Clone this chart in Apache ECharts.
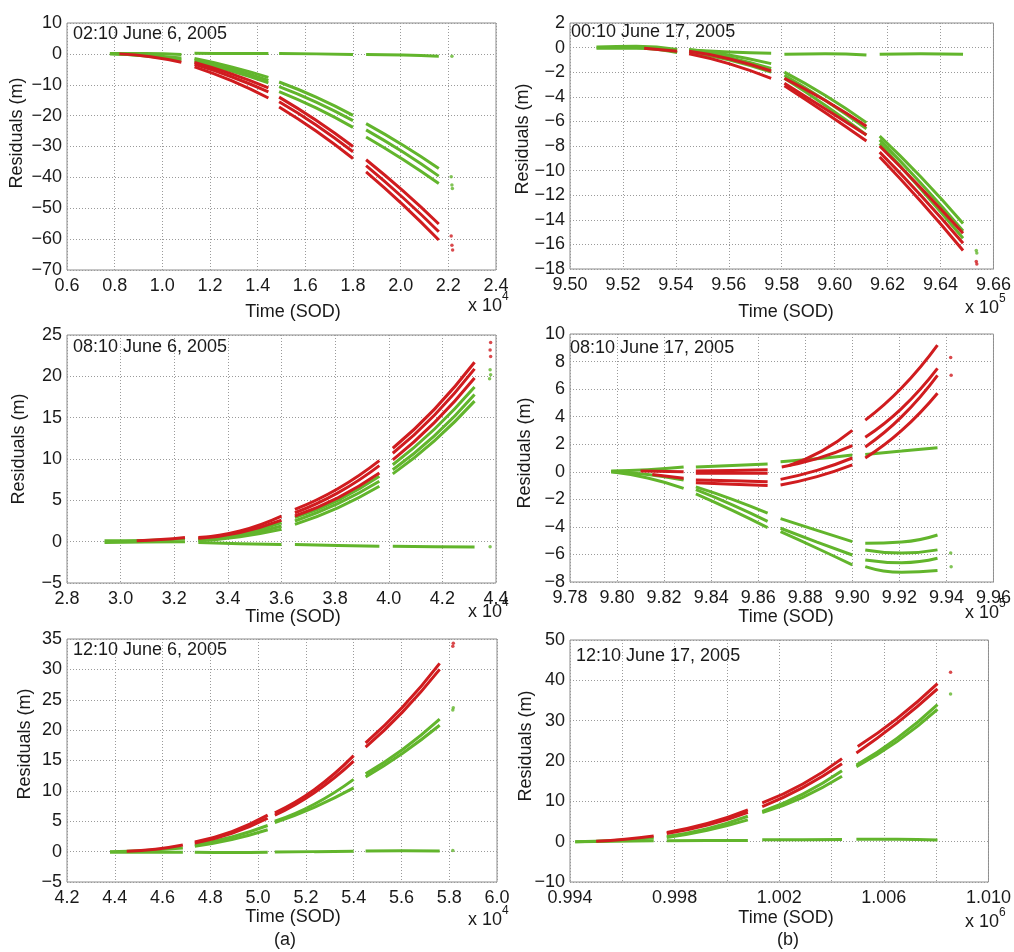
<!DOCTYPE html>
<html>
<head>
<meta charset="utf-8">
<script src="https://cdn.jsdelivr.net/npm/echarts@6/dist/echarts.min.js"></script>
<style>
html,body{margin:0;padding:0;background:#fff;}
#c{width:1014px;height:952px;}
</style>
</head>
<body>
<div id="c"></div>
<script>
// ---------- DATA (x in thousands of seconds of day, y in metres) ----------
const TITLES = ['02:10 June 6, 2005','00:10 June 17, 2005','08:10 June 6, 2005','08:10 June 17, 2005','12:10 June 6, 2005','12:10 June 17, 2005'];
const XEXP = ['4','5','4','5','4','6'];

const P1_XTICKS = ['0.6','0.8','1.0','1.2','1.4','1.6','1.8','2.0','2.2','2.4'];
const P1_YTICKS = ['\u221270','\u221260','\u221250','\u221240','\u221230','\u221220','\u221210','0','10'];
const P1_GREEN = [
  [[7.8,0.1],[9.3,0.1],[10.8,-0.2]],
  [[7.8,0],[9.3,-0.5],[10.8,-1.3]],
  [[7.8,0],[9.3,-0.7],[10.8,-2.0]],
  [[11.35,0.2],[12.9,0.1],[14.45,0.1]],
  [[11.35,-1.5],[12.9,-4.2],[14.45,-7.6]],
  [[11.35,-2.0],[12.9,-4.9],[14.45,-8.6]],
  [[11.35,-2.6],[12.9,-5.6],[14.45,-9.4]],
  [[14.9,0.1],[16.45,0],[18.0,-0.2]],
  [[14.9,-9.1],[16.45,-14.0],[18.0,-19.9]],
  [[14.9,-10.6],[16.45,-15.6],[18.0,-21.6]],
  [[14.9,-12.2],[16.45,-17.5],[18.0,-23.8]],
  [[18.55,-0.2],[20.1,-0.4],[21.6,-0.8]],
  [[18.55,-22.6],[20.1,-29.6],[21.6,-37.1]],
  [[18.55,-24.6],[20.1,-31.8],[21.6,-39.6]],
  [[18.55,-26.9],[20.1,-34.2],[21.6,-42.0]]
];
const P1_RED = [
  [[8.2,0],[9.5,-0.9],[10.8,-2.7]],
  [[11.35,-2.8],[12.9,-6.5],[14.45,-11.0]],
  [[11.35,-3.4],[12.9,-7.4],[14.45,-12.3]],
  [[11.35,-4.2],[12.9,-8.7],[14.45,-14.3]],
  [[14.9,-14.0],[16.45,-21.5],[18.0,-30.0]],
  [[14.9,-15.5],[16.45,-23.0],[18.0,-31.7]],
  [[14.9,-17.2],[16.45,-25.0],[18.0,-33.9]],
  [[18.55,-34.3],[20.1,-44.4],[21.6,-55.1]],
  [[18.55,-36.2],[20.1,-46.6],[21.6,-57.6]],
  [[18.55,-38.2],[20.1,-48.9],[21.6,-60.3]]
];
const P1_DOTS_GREEN = [[22.15,-0.8],[22.12,-39.8],[22.15,-42.5],[22.17,-43.6]];
const P1_DOTS_RED = [[22.12,-59.0],[22.15,-62.0],[22.18,-63.5]];

const P2_XTICKS = ['9.50','9.52','9.54','9.56','9.58','9.60','9.62','9.64','9.66'];
const P2_YTICKS = ['\u221218','\u221216','\u221214','\u221212','\u221210','\u22128','\u22126','\u22124','\u22122','0','2'];
const P2_GREEN = [
  [[951.0,0.05],[952.5,0.1],[954.05,-0.15]],
  [[951.0,-0.05],[952.5,-0.05],[954.05,-0.4]],
  [[954.5,-0.2],[956.0,-0.35],[957.6,-0.45]],
  [[954.5,-0.15],[956.0,-0.6],[957.6,-1.3]],
  [[954.5,-0.25],[956.0,-0.8],[957.6,-1.7]],
  [[954.5,-0.35],[956.0,-1.0],[957.6,-2.0]],
  [[958.1,-0.55],[959.65,-0.5],[961.2,-0.6]],
  [[958.1,-2.0],[959.65,-3.9],[961.2,-6.1]],
  [[958.1,-2.25],[959.65,-4.3],[961.2,-6.6]],
  [[958.1,-2.5],[959.65,-4.7],[961.2,-7.1]],
  [[961.7,-0.55],[963.25,-0.5],[964.85,-0.55]],
  [[961.7,-7.2],[963.25,-10.5],[964.85,-14.3]],
  [[961.7,-7.5],[963.25,-11.0],[964.85,-14.9]],
  [[961.7,-7.8],[963.25,-11.5],[964.85,-15.5]]
];
const P2_RED = [
  [[952.8,-0.05],[954.05,-0.3]],
  [[954.5,-0.3],[956.0,-0.9],[957.6,-1.9]],
  [[954.5,-0.5],[956.0,-1.3],[957.6,-2.5]],
  [[958.1,-2.5],[959.65,-4.3],[961.2,-6.4]],
  [[958.1,-2.9],[959.65,-5.0],[961.2,-7.1]],
  [[958.1,-3.1],[959.65,-5.3],[961.2,-7.6]],
  [[961.7,-8.0],[963.25,-11.4],[964.85,-15.1]],
  [[961.7,-8.5],[963.25,-12.0],[964.85,-15.9]],
  [[961.7,-8.9],[963.25,-12.5],[964.85,-16.5]]
];
const P2_DOTS_GREEN = [[965.35,-16.5],[965.37,-16.7]];
const P2_DOTS_RED = [[965.35,-17.4],[965.37,-17.6]];

const P3_XTICKS = ['2.8','3.0','3.2','3.4','3.6','3.8','4.0','4.2','4.4'];
const P3_YTICKS = ['\u22125','0','5','10','15','20','25'];
const P3_GREEN = [
  [[29.4,0.1],[30.9,0.15],[32.4,0.35]],
  [[29.4,-0.1],[30.9,-0.05],[32.4,0.0]],
  [[32.9,-0.1],[34.45,-0.25],[36.0,-0.35]],
  [[32.9,0.3],[34.45,0.9],[36.0,2.3]],
  [[32.9,0.2],[34.45,0.75],[36.0,1.9]],
  [[32.9,0.1],[34.45,0.6],[36.0,1.5]],
  [[36.5,-0.35],[38.1,-0.45],[39.65,-0.55]],
  [[36.5,2.9],[38.1,5.0],[39.65,7.9]],
  [[36.5,2.5],[38.1,4.6],[39.65,7.3]],
  [[36.5,2.1],[38.1,4.1],[39.65,6.7]],
  [[40.15,-0.55],[41.7,-0.6],[43.2,-0.65]],
  [[40.15,9.3],[41.7,13.6],[43.2,18.7]],
  [[40.15,8.7],[41.7,12.8],[43.2,17.8]],
  [[40.15,8.2],[41.7,12.2],[43.2,17.0]]
];
const P3_RED = [
  [[30.6,0.1],[31.5,0.25],[32.4,0.5]],
  [[32.9,0.5],[34.45,1.3],[36.0,3.1]],
  [[32.9,0.4],[34.45,1.1],[36.0,2.6]],
  [[36.5,3.9],[38.1,6.4],[39.65,9.8]],
  [[36.5,3.5],[38.1,5.9],[39.65,9.2]],
  [[36.5,3.1],[38.1,5.3],[39.65,8.3]],
  [[40.15,11.3],[41.7,16.0],[43.2,21.7]],
  [[40.15,10.7],[41.7,15.3],[43.2,20.9]],
  [[40.15,9.9],[41.7,14.4],[43.2,19.8]]
];
const P3_DOTS_GREEN = [[43.78,20.8],[43.8,20.2],[43.76,19.7],[43.78,-0.6]];
const P3_DOTS_RED = [[43.8,24.1],[43.78,23.2],[43.8,22.4]];

const P4_XTICKS = ['9.78','9.80','9.82','9.84','9.86','9.88','9.90','9.92','9.94','9.96'];
const P4_YTICKS = ['\u22128','\u22126','\u22124','\u22122','0','2','4','6','8','10'];
const P4_GREEN = [
  [[979.75,0.05],[981.3,0.15],[982.83,0.35]],
  [[979.75,0],[981.3,-0.2],[982.83,-0.6]],
  [[979.75,0],[981.3,-0.45],[982.83,-1.2]],
  [[983.35,0.35],[984.9,0.45],[986.4,0.57]],
  [[983.35,-1.1],[984.9,-2.0],[986.4,-3.0]],
  [[983.35,-1.3],[984.9,-2.4],[986.4,-3.6]],
  [[983.35,-1.6],[984.9,-2.8],[986.4,-4.05]],
  [[986.95,0.73],[988.5,0.95],[990.0,1.22]],
  [[986.95,-3.4],[988.5,-4.25],[990.0,-5.07]],
  [[986.95,-4.1],[988.5,-5.1],[990.0,-6.04]],
  [[986.95,-4.35],[988.5,-5.55],[990.0,-6.76]],
  [[990.55,1.25],[992.1,1.5],[993.62,1.75]],
  [[990.55,-5.19],[992.1,-5.1],[993.62,-4.59]],
  [[990.55,-5.67],[992.1,-5.9],[993.62,-5.67]],
  [[990.55,-6.4],[992.1,-6.6],[993.62,-6.28]],
  [[990.55,-6.88],[992.1,-7.3],[993.62,-7.17]]
];
const P4_RED = [
  [[981.0,0.05],[982.83,0.0]],
  [[981.5,-0.2],[982.83,-0.47]],
  [[983.35,0.05],[984.9,0.1],[986.4,0.15]],
  [[983.35,-0.1],[984.9,-0.1],[986.4,-0.1]],
  [[983.35,-0.6],[984.9,-0.65],[986.4,-0.72]],
  [[983.35,-0.8],[984.9,-0.9],[986.4,-1.0]],
  [[987.3,0.45],[988.7,1.5],[990.0,3.0]],
  [[987.0,0.35],[988.5,0.95],[990.0,1.9]],
  [[986.95,-0.55],[988.5,0.1],[990.0,1.0]],
  [[986.95,-0.96],[988.5,-0.35],[990.0,0.5]],
  [[990.55,3.75],[992.1,6.1],[993.62,9.2]],
  [[990.55,2.5],[992.1,4.6],[993.62,7.5]],
  [[990.55,1.8],[992.1,4.0],[993.62,7.0]],
  [[990.55,1.0],[992.1,3.0],[993.62,5.7]]
];
const P4_DOTS_GREEN = [[994.18,-5.9],[994.2,-6.9]];
const P4_DOTS_RED = [[994.18,8.3],[994.2,7.0]];

const P5_XTICKS = ['4.2','4.4','4.6','4.8','5.0','5.2','5.4','5.6','5.8','6.0'];
const P5_YTICKS = ['\u22125','0','5','10','15','20','25','30','35'];
const P5_GREEN = [
  [[43.8,-0.1],[45.3,-0.1],[46.85,-0.1]],
  [[43.8,0.0],[45.3,0.2],[46.85,0.6]],
  [[47.35,-0.1],[48.9,-0.15],[50.4,-0.1]],
  [[47.35,1.1],[48.9,2.4],[50.4,4.3]],
  [[47.35,0.9],[48.9,2.0],[50.4,3.6]],
  [[50.7,-0.05],[52.35,0.0],[54.0,0.05]],
  [[50.7,5.0],[52.35,7.8],[54.0,11.9]],
  [[50.7,4.8],[52.35,7.3],[54.0,10.5]],
  [[54.5,0.1],[56.05,0.15],[57.6,0.1]],
  [[54.5,12.8],[56.05,16.8],[57.6,21.8]],
  [[54.5,12.3],[56.05,16.2],[57.6,20.8]]
];
const P5_RED = [
  [[44.5,0.05],[45.7,0.4],[46.85,1.1]],
  [[47.35,1.6],[48.9,3.3],[50.4,6.0]],
  [[47.35,1.4],[48.9,3.0],[50.4,5.5]],
  [[50.7,6.4],[52.35,10.2],[54.0,15.8]],
  [[50.7,6.0],[52.35,9.7],[54.0,14.9]],
  [[54.5,17.9],[56.05,23.8],[57.6,31.0]],
  [[54.5,17.2],[56.05,23.0],[57.6,30.0]]
];
const P5_DOTS_GREEN = [[58.15,23.3],[58.17,23.7],[58.15,0.2]];
const P5_DOTS_RED = [[58.15,33.8],[58.17,34.3]];

const P6_XTICKS = ['0.994','','0.998','','1.002','','1.006','','1.010'];
const P6_YTICKS = ['\u221210','0','10','20','30','40','50'];
const P6_GREEN = [
  [[994.2,0.0],[995.7,0.1],[997.2,0.2]],
  [[994.2,0.0],[995.7,0.3],[997.2,1.0]],
  [[997.7,0.2],[999.25,0.3],[1000.8,0.3]],
  [[997.7,1.3],[999.25,3.2],[1000.8,6.3]],
  [[997.7,1.0],[999.25,2.8],[1000.8,5.4]],
  [[1001.35,0.5],[1002.9,0.5],[1004.4,0.55]],
  [[1001.35,7.5],[1002.9,11.8],[1004.4,17.6]],
  [[1001.35,7.2],[1002.9,11.0],[1004.4,16.2]],
  [[1004.95,0.6],[1006.5,0.6],[1008.05,0.4]],
  [[1004.95,19.0],[1006.5,25.6],[1008.05,34.0]],
  [[1004.95,18.6],[1006.5,24.8],[1008.05,32.8]]
];
const P6_RED = [
  [[995.0,0.1],[996.1,0.6],[997.2,1.4]],
  [[997.7,2.3],[999.25,4.5],[1000.8,7.9]],
  [[997.7,2.0],[999.25,4.1],[1000.8,7.3]],
  [[1001.35,9.6],[1002.9,14.3],[1004.4,20.6]],
  [[1001.35,8.7],[1002.9,13.4],[1004.4,19.3]],
  [[1005.0,23.6],[1006.5,30.5],[1008.05,39.2]],
  [[1004.95,22.0],[1006.5,29.4],[1008.05,37.9]]
];
const P6_DOTS_GREEN = [[1008.55,36.6]];
const P6_DOTS_RED = [[1008.55,42.0]];

// ---------- LAYOUT ----------
const FONT = 'Liberation Sans, Arial, sans-serif';
const GREEN = '#62b52c';
const RED = '#d01c1f';
const TXT = '#1a1a1a';

const PANELS = [
  {rect:[67,23,429,247], x:[6,24,2], y:[-70,10,10], xt:P1_XTICKS, yt:P1_YTICKS, g:P1_GREEN, r:P1_RED, dg:P1_DOTS_GREEN, dr:P1_DOTS_RED,
   title:[73,35], ylab:[17,133], xlab:[293,312], exp:[468,306]},
  {rect:[570,23,429,246], x:[950,966,2], y:[-18,2,2], xt:P2_XTICKS, yt:P2_YTICKS, g:P2_GREEN, r:P2_RED, dg:P2_DOTS_GREEN, dr:P2_DOTS_RED,
   title:[571,33], ylab:[523,139], xlab:[786,312], exp:[965,308]},
  {rect:[67,335,429,248], x:[28,44,2], y:[-5,25,5], xt:P3_XTICKS, yt:P3_YTICKS, g:P3_GREEN, r:P3_RED, dg:P3_DOTS_GREEN, dr:P3_DOTS_RED,
   title:[73,348], ylab:[19,449], xlab:[293,617], exp:[468,612]},
  {rect:[570,334,429,248], x:[978,996,2], y:[-8,10,2], xt:P4_XTICKS, yt:P4_YTICKS, g:P4_GREEN, r:P4_RED, dg:P4_DOTS_GREEN, dr:P4_DOTS_RED,
   title:[570,349], ylab:[525,453], xlab:[786,617], exp:[965,613]},
  {rect:[67,639,430,243], x:[42,60,2], y:[-5,35,5], xt:P5_XTICKS, yt:P5_YTICKS, g:P5_GREEN, r:P5_RED, dg:P5_DOTS_GREEN, dr:P5_DOTS_RED,
   title:[73,651], ylab:[25,744], xlab:[293,917], exp:[468,920]},
  {rect:[570,640,429,242], x:[994,1010,2], y:[-10,50,10], xt:P6_XTICKS, yt:P6_YTICKS, g:P6_GREEN, r:P6_RED, dg:P6_DOTS_GREEN, dr:P6_DOTS_RED,
   title:[576,657], ylab:[526,746], xlab:[786,918], exp:[965,922]}
];

const grid = [], xAxis = [], yAxis = [], series = [], graphic = [];
const split = {show:true, lineStyle:{color:'#9a9a9a', type:[1,2], width:1}};

PANELS.forEach((p, i) => {
  grid.push({left:p.rect[0], top:p.rect[1], width:p.rect[2], height:p.rect[3], show:true,
             borderColor:'#8c8c8c', borderWidth:1, backgroundColor:'#fff', containLabel:false});
  const xt = p.xt, yt = p.yt, x0 = p.x[0], xi = p.x[2], y0 = p.y[0], yi = p.y[2];
  xAxis.push({type:'value', gridIndex:i, min:p.x[0], max:p.x[1], interval:p.x[2],
    axisLine:{show:false}, axisTick:{show:false}, splitLine:split,
    axisLabel:{show:true, margin:7, fontSize:18, fontFamily:FONT, color:TXT, showMinLabel:true, showMaxLabel:true, hideOverlap:false,
      formatter:(v)=>{const k=Math.round((v-x0)/xi); return xt[k]!==undefined?xt[k]:'';}}});
  yAxis.push({type:'value', gridIndex:i, min:p.y[0], max:p.y[1], interval:p.y[2],
    axisLine:{show:false}, axisTick:{show:false}, splitLine:split,
    axisLabel:{show:true, margin:5, fontSize:18, fontFamily:FONT, color:TXT, showMinLabel:true, showMaxLabel:true, hideOverlap:false,
      formatter:(v)=>{const k=Math.round((v-y0)/yi); return yt[k]!==undefined?yt[k]:'';}}});

  const addTracks = (tracks, color, z) => tracks.forEach(t => series.push({
    type:'line', xAxisIndex:i, yAxisIndex:i, data:t, smooth:0.5, showSymbol:false, symbol:'none',
    lineStyle:{color:color, width:3}, silent:true, animation:false, z:z, clip:true}));
  addTracks(p.g, GREEN, 2);
  addTracks(p.r, RED, 3);
  series.push({type:'scatter', xAxisIndex:i, yAxisIndex:i, data:p.dg, symbolSize:3.5, itemStyle:{color:GREEN}, silent:true, animation:false, z:4});
  series.push({type:'scatter', xAxisIndex:i, yAxisIndex:i, data:p.dr, symbolSize:3.5, itemStyle:{color:RED}, silent:true, animation:false, z:4});

  graphic.push({type:'text', left:p.title[0], top:p.title[1]-10, z:100,
    style:{text:TITLES[i], font:'18px '+FONT, fill:TXT}});
  graphic.push({type:'text', x:p.ylab[0], y:p.ylab[1], rotation:Math.PI/2, z:100,
    style:{text:'Residuals (m)', font:'18px '+FONT, fill:TXT, align:'center', verticalAlign:'middle'}});
  graphic.push({type:'text', x:p.xlab[0], y:p.xlab[1], z:100,
    style:{text:'Time (SOD)', font:'18px '+FONT, fill:TXT, align:'center', verticalAlign:'middle'}});
  graphic.push({type:'text', x:p.exp[0], y:p.exp[1], z:100,
    style:{text:'x 10', font:'18px '+FONT, fill:TXT, align:'left', verticalAlign:'middle'}});
  graphic.push({type:'text', x:p.exp[0]+34, y:p.exp[1]-9, z:100,
    style:{text:XEXP[i], font:'12px '+FONT, fill:TXT, align:'left', verticalAlign:'middle'}});
});

graphic.push({type:'text', x:285, y:940, style:{text:'(a)', font:'18px '+FONT, fill:TXT, align:'center', verticalAlign:'middle'}});
graphic.push({type:'text', x:788, y:940, style:{text:'(b)', font:'18px '+FONT, fill:TXT, align:'center', verticalAlign:'middle'}});

const chart = echarts.init(document.getElementById('c'), null, {renderer:'canvas'});
chart.setOption({backgroundColor:'#fff', animation:false, grid, xAxis, yAxis, series, graphic});
</script>
</body>
</html>
